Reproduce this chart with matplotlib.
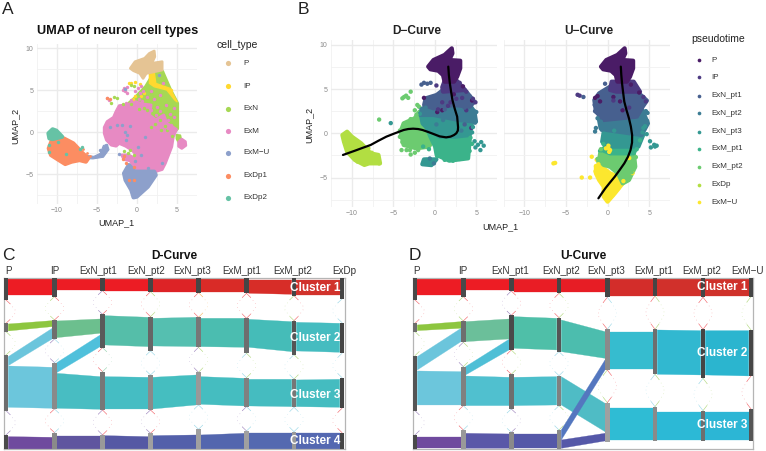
import numpy as np
import matplotlib
matplotlib.use('Agg')
import matplotlib.pyplot as plt

plt.rcParams['font.family'] = ['Liberation Sans', 'DejaVu Sans']

W, H = 766, 451

# ─── Panel A outlines (UMAP units) ───
A_P = [(-0.83, 7.58), (-0.24, 8.37), (0.96, 8.77), (1.55, 9.36), (2.15, 9.64), (2.22, 8.97), (1.83, 8.17),
       (3.14, 8.37), (3.14, 7.38), (2.15, 7.18), (1.15, 6.98), (0.76, 6.39), (0.36, 6.98), (-0.43, 7.3)]
A_GREEN = [(-1.43, 3.01), (-0.24, 4.0), (1.15, 5.39), (2.15, 6.98), (3.14, 7.18), (4.13, 5.0), (5.0, 3.41),
           (5.0, 0.43), (4.33, -0.16), (2.94, 1.03), (1.75, 1.43), (1.35, 2.22), (-0.24, 3.21)]
A_YELLOW = [(1.55, 6.98), (2.15, 7.18), (2.35, 5.79), (4.13, 5.2), (5.0, 3.6), (4.73, 3.8), (3.73, 5.0),
            (2.15, 5.39), (1.55, 5.79)]
A_PINK = [(-4.08, 0.55), (-3.73, 1.23), (-2.93, 1.74), (-2.62, 2.42), (-2.22, 3.13), (-1.23, 3.21), (-0.24, 3.61),
          (0.76, 3.33), (1.75, 3.21), (1.55, 2.02), (2.34, 1.43), (3.34, 2.02), (3.73, 1.03), (4.92, 0.31),
          (4.53, -0.56), (4.33, -1.75), (3.93, -2.74), (3.53, -3.73), (3.14, -4.45), (2.23, -4.72), (1.35, -4.53),
          (0.16, -4.45), (-0.43, -4.13), (-0.83, -3.42), (-1.62, -3.26), (-1.9, -2.74), (-1.03, -2.74), (-0.16, -3.22),
          (-0.24, -2.54), (-0.63, -2.15), (-1.43, -1.67), (-2.22, -1.35), (-2.62, -1.67), (-3.21, -1.55), (-3.81, -0.95),
          (-4.08, -0.16)]
A_PINK_R = [(5.2, -1.2), (5.6, -0.85), (6.05, -1.15), (6.1, -1.6), (5.6, -1.95), (5.2, -1.7)]
A_GREEN_R = [(4.95, -0.35), (5.4, -0.4), (5.5, -0.85), (5.15, -1.15), (4.95, -0.8)]
A_BLUE = [(-1.62, -4.92), (-1.03, -3.93), (-0.24, -4.72), (2.15, -4.72), (2.34, -5.12), (1.35, -6.51),
          (-0.04, -7.7), (-0.43, -7.78), (-0.71, -6.9), (-1.43, -5.72)]
A_TAIL = [(-6.6, -2.74), (-5.4, -2.9), (-4.6, -2.54), (-4.2, -1.6), (-3.7, -1.5), (-3.5, -2.1), (-4.2, -3.0),
          (-5.5, -3.2), (-6.5, -3.15)]
A_ORANGE = [(-10.55, -0.76), (-9.16, -0.76), (-7.97, -1.35), (-6.78, -2.54), (-6.11, -3.14), (-6.39, -3.53),
            (-7.18, -3.34), (-8.17, -3.53), (-8.97, -3.81), (-9.76, -3.34), (-10.75, -2.74), (-11.03, -1.95)]
A_TEAL = [(-11.07, -0.16), (-10.55, 0.32), (-10.08, 0.16), (-9.36, -0.56), (-10.55, -0.84), (-10.95, -0.76)]

A_SPECK_PINK = [(-3.7, 4.1), (-3.5, 3.8), (-1.6, 5.3), (-1.5, 4.9), (-1.2, 5.4), (-0.2, 4.9), (0.1, 5.2), (0.5, 5.5),
                (0.4, 4.6), (2.1, 3.9), (2.9, 4.4), (1.2, 4.2), (0.2, 3.9), (3.6, 3.2), (1.8, 4.9), (4.1, 2.2),
                (4.6, 2.9), (3.2, 5.8), (0.7, 4.9), (2.5, 3.0), (3.9, 1.4), (4.6, 1.8), (-1.7, 5.0), (-1.3, 4.7),
                (-1.4, 3.4), (-0.7, 3.8), (2.4, 2.0), (2.9, 2.5), (1.8, 2.6), (0.6, 3.7), (3.9, 0.5), (4.3, 0.8)]
A_SPECK_GREEN = [(-2.9, 4.2), (-2.5, 4.0), (-0.8, 5.6), (-0.4, 5.5), (3.5, 0.7), (3.0, 0.2), (1.8, 0.6), (2.2, 1.0),
                 (-0.9, -2.2), (-0.4, -2.7), (4.4, -0.5), (-1.1, -2.5), (0.2, 2.8), (-3.3, 3.5), (0.9, 2.9), (1.3, 2.6),
                 (2.9, 1.4), (3.7, 0.3), (-1.6, -2.3), (-0.7, 3.3), (-1.8, 3.3)]
A_SPECK_BLUE = [(-1.82, 0.83), (-1.5, 0.04), (-1.2, -0.36), (-0.83, 0.71), (-3.4, 0.55), (-2.5, 0.83), (0.16, -1.75),
                (0.56, -2.74), (1.35, -4.33), (-0.2, -3.5), (0.96, -0.56), (3.1, -3.7), (-1.43, -0.95), (-1.0, -3.9),
                (-3.9, -1.6), (-2.3, -2.6), (2.7, 6.8), (-1.5, 5.1), (-4.6, -2.1)]
A_SPECK_ORANGE = [(-1.8, -3.26), (-1.43, -3.73), (-0.43, -5.72), (-1.03, -5.72), (-0.43, -4.13), (-1.65, -2.9),
                  (-3.8, 4.0), (-3.4, 3.9)]
A_SPECK_TEAL = [(-10.95, -1.6), (-11.0, -2.4), (-8.9, -2.6), (-7.1, -2.0), (-9.9, -1.2), (-6.9, -1.8)]
A_SPECK_ORANGE2 = [(-6.7, -2.0), (-5.9, -2.8), (-6.2, -2.55)]
A_SPECK_YELLOW = [(-0.8, 5.8), (-0.3, 5.9), (0.4, 5.7), (-0.5, 3.9), (0.5, 4.3), (-0.2, 4.3), (0.9, 4.6), (4.2, 5.0),
                  (-1.0, 5.8)]

CELL_TYPES = ['P', 'IP', 'ExN', 'ExM', 'ExM\u2212U', 'ExDp1', 'ExDp2']
CELL_COLORS = ['#E5C494', '#FFD92F', '#A6D854', '#E78AC3', '#8DA0CB', '#FC8D62', '#66C2A5']

# ─── Panel B outlines ───
B_P = [(-0.79, 7.53), (-0.15, 8.28), (1.18, 8.85), (2.05, 9.6), (2.13, 9.03), (1.75, 8.28), (3.07, 8.2), (3.07, 7.34),
       (2.7, 6.4), (2.32, 5.83), (1.18, 5.83), (0.99, 6.58), (0.42, 7.07), (-0.52, 7.23)]

DL_IP = [(1.18, 5.9), (2.7, 5.9), (3.64, 4.89), (1.0, 4.7), (0.9, 5.2)]
DL_PT1 = [(1.18, 5.3), (2.7, 5.6), (3.64, 4.89), (4.78, 3.57), (4.21, 3.0), (2.32, 3.2), (-0.15, 2.82), (-1.28, 3.2),
          (-1.09, 3.95), (0.23, 4.33), (0.99, 4.89)]
DL_PT2 = [(-1.47, 2.82), (-0.15, 3.0), (4.21, 3.2), (4.78, 2.44), (4.97, 1.31), (2.88, 1.5), (-0.15, 2.07), (-1.74, 2.07)]
DL_PT3 = [(-1.66, 2.07), (-0.15, 2.44), (2.88, 2.07), (4.59, 1.69), (4.21, -0.2), (2.5, -0.38), (0.61, -0.38),
          (-0.71, 0.37), (-1.47, 1.12)]
DL_M1 = [(-0.15, 2.07), (4.02, 1.5), (4.21, -0.76), (4.02, -2.83), (1.75, -3.1), (0.23, -2.45), (0.04, -1.51),
         (-0.53, -0.38), (-1.09, 0.94)]
DL_M1_LOW = [(-1.3, -2.95), (0.2, -2.95), (-0.4, -3.6), (-1.5, -3.5)]
DL_M2 = [(-4.12, 0.18), (-3.75, 1.12), (-2.42, 1.69), (-1.85, 2.44), (-0.9, 2.07), (-0.53, 0.37), (-0.15, -0.76),
         (-0.71, -1.51), (-2.23, -1.7), (-3.75, -1.32)]
DL_DP = [(-11.13, -0.2), (-10.56, 0.18), (-9.99, -0.38), (-8.86, -1.14), (-7.72, -2.27), (-6.78, -2.45), (-6.59, -3.4),
         (-7.91, -3.4), (-8.48, -3.58), (-9.62, -3.02), (-10.56, -2.08), (-10.94, -0.95)]
D_CURVE_X = [1.63, 1.7, 1.82, 1.97, 2.13, 2.4, 2.7, 2.81, 2.78, 2.6, 2.32, 1.9, 1.37, 0.6, -0.15, -0.8, -1.47, -2.0,
             -2.61, -3.2, -3.75, -4.8, -5.83, -6.8, -7.72, -8.7, -9.62, -11.06]
D_CURVE_Y = [7.53, 6.6, 5.64, 4.7, 3.76, 2.8, 1.88, 0.67, 0.3, 0.0, -0.2, -0.38, -0.46, -0.35, -0.08, 0.15, 0.37, 0.48,
             0.52, 0.48, 0.37, 0.0, -0.38, -0.85, -1.32, -1.65, -1.97, -2.45]

UR_IP = [(0.49, 5.83), (3.14, 5.83), (3.9, 4.7), (1.06, 4.7), (0.3, 4.89)]
UR_PT1 = [(-1.59, 3.76), (-1.02, 4.51), (0.3, 5.27), (3.33, 4.89), (4.73, 3.69), (4.09, 2.82), (3.52, 1.88), (-0.46, 1.5),
          (-1.4, 2.44)]
UR_PT2 = [(-1.02, 1.5), (-0.46, 1.88), (4.09, 2.82), (4.85, 1.12), (4.09, -0.2), (-0.08, 0.37), (-0.84, 0.56)]
UR_PT3 = [(-0.46, 0.18), (-0.08, 0.67), (4.09, 0.75), (4.28, -0.2), (3.71, -1.51), (-0.08, -1.51), (-0.65, -0.95)]
UR_M1 = [(-0.27, -1.51), (3.33, -0.95), (4.09, -0.38), (3.14, -2.27), (0.3, -2.27), (-0.65, -1.89)]
UR_M2 = [(-0.84, -2.08), (-0.08, -1.51), (3.14, -2.08), (3.33, -3.77), (2.57, -5.28), (1.82, -5.66), (1.25, -4.53),
         (0.3, -3.77), (-0.46, -3.58), (-1.02, -3.02)]
UR_YELLOW = [(-1.4, -3.77), (-0.65, -3.4), (-0.46, -3.96), (0.3, -4.53), (1.25, -4.9), (1.89, -5.58), (0.87, -6.79),
             (0.0, -7.73), (-0.46, -7.16), (-0.46, -6.03), (-1.02, -5.28), (-1.4, -4.53)]
U_CURVE_X = [1.59, 1.65, 1.74, 1.87, 2.01, 2.28, 2.57, 2.8, 2.95, 2.94, 2.76, 2.45, 2.01, 1.45, 0.87, 0.3, -0.27, -0.7, -1.1]
U_CURVE_Y = [7.53, 6.6, 5.64, 4.6, 3.57, 2.6, 1.69, 0.75, -0.2, -1.05, -1.89, -2.65, -3.4, -4.15, -4.9, -5.55, -6.22,
             -6.8, -7.35]

PT_LABELS = ['P', 'IP', 'ExN_pt1', 'ExN_pt2', 'ExN_pt3', 'ExM_pt1', 'ExM_pt2', 'ExDp', 'ExM\u2212U']
PT_COLORS = ['#4A1C66', '#4D3A82', '#47608F', '#3C7C94', '#349892', '#3BB38A', '#6CCB70', '#B2DE42', '#FCE72E']

# stray points in each facet: x, y, colour index
DL_SPECK = [(-3.7, 4.1, 6), (-3.45, 4.25, 6), (-3.2, 4.0, 6), (-3.9, 3.95, 6), (-2.9, 4.7, 6), (-6.7, 1.55, 6),
            (-5.3, 1.15, 4), (-1.3, 5.7, 2), (-0.9, 5.6, 2), (-1.6, 5.5, 2), (-0.5, 5.7, 2), (0.2, 5.4, 1), (4.8, -0.9, 4),
            (5.2, -1.3, 4), (5.6, -1.0, 4), (5.9, -1.4, 4), (5.5, -1.9, 4), (4.9, -1.6, 4), (5.0, 2.4, 3), (-1.3, 4.0, 0),
            (-1.9, 3.0, 6), (-3.4, -1.9, 6), (-2.9, -2.4, 6), (0.9, 2.6, 0), (1.6, 3.1, 1), (2.3, 4.4, 0), (3.3, 4.0, 1),
            (4.5, 3.7, 0), (4.6, 1.5, 3), (4.4, 0.6, 1), (3.8, 2.6, 1), (-1.0, -3.0, 4), (-0.6, -2.85, 3), (-0.1, -3.4, 3),
            (3.6, 1.0, 2), (1.9, 3.5, 1), (0.3, 2.4, 0),
            (4.9, 3.5, 1), (4.6, 3.9, 1), (4.2, 4.2, 2), (3.8, 4.7, 1), (3.4, 5.3, 0), (3.0, 5.7, 1), (4.75, 2.5, 3),
            (4.55, 2.0, 3), (4.85, 1.2, 3), (4.6, 0.7, 4), (4.5, 0.1, 4), (4.3, -0.5, 5), (4.5, -1.2, 5), (4.2, -2.0, 5),
            (3.7, -2.6, 5), (3.0, -2.9, 5), (2.2, -3.1, 5), (1.2, -3.0, 5), (0.3, -2.6, 5), (-0.9, 3.5, 2), (-1.1, 2.9, 3),
            (-1.6, 2.7, 3), (-1.8, 2.2, 4), (-2.2, 2.1, 6), (-2.4, 2.6, 6), (-2.1, 3.2, 6), (-2.9, 1.6, 6), (-3.6, 1.1, 6),
            (-4.2, 0.3, 6), (-4.2, -0.4, 6), (-3.9, -1.0, 6), (-4.0, -1.9, 6), (-3.0, -1.9, 6), (-2.4, -2.2, 6),
            (-2.0, -1.9, 6), (-1.4, -1.5, 5), (-0.7, -1.8, 5), (0.2, 1.0, 3), (1.0, 1.5, 3), (2.0, 0.8, 4), (3.2, 0.3, 3),
            (0.4, 2.7, 1), (1.2, 2.7, 2), (0.9, 3.5, 1), (2.6, 3.9, 1), (3.6, 2.9, 2),
            (-6.7, -3.4, 7), (-7.2, -3.1, 7), (-7.6, -2.2, 7), (-8.0, -1.7, 7), (-8.6, -3.3, 7), (-9.3, -3.2, 7),
            (-9.9, -2.5, 7), (-10.8, -1.0, 7), (-10.3, -0.2, 7), (-9.4, -0.9, 7)]
UR_SPECK = [(-3.6, 4.35, 1), (-3.35, 4.25, 1), (-2.9, 4.1, 2), (-1.5, 4.0, 0), (-1.2, 4.2, 0), (-0.9, 3.6, 0), (-0.3, 5.6, 2),
            (5.1, -0.9, 4), (5.6, -1.3, 4), (5.7, -1.5, 4), (5.9, -1.4, 4), (5.2, -1.6, 4), (4.7, -0.1, 4), (4.6, 2.5, 3),
            (-6.5, -3.4, 8), (-6.3, -3.35, 8), (-3.1, -5.0, 8), (-2.1, -5.0, 8), (-1.9, -2.65, 8), (-1.3, -3.0, 8),
            (-1.2, -2.9, 6), (-0.9, -2.0, 5), (0.1, -1.7, 8), (0.2, -2.1, 8), (2.6, -2.8, 8), (1.5, 3.6, 0), (1.8, 2.6, 0),
            (3.0, -4.5, 8), (-1.4, 0.6, 3), (-0.9, -2.6, 6), (-0.2, -3.1, 6), (0.7, 4.1, 0), (-1.5, 0.2, 3), (4.2, 1.5, 3),
            (4.5, 0.8, 4), (3.2, -3.9, 6),
            (4.6, 3.6, 1), (4.3, 4.1, 1), (3.8, 4.6, 0), (3.4, 5.1, 1), (2.8, 5.5, 0), (4.8, 2.3, 3), (4.75, 1.4, 3),
            (4.3, 0.6, 4), (4.2, 0.1, 4), (3.9, -0.8, 5), (3.5, -1.8, 5), (3.4, -2.7, 6), (3.1, -3.6, 6), (2.9, -4.4, 6),
            (2.2, -5.3, 6), (-1.55, 3.2, 2), (-1.5, 2.5, 2), (-1.2, 1.7, 3), (-0.8, 1.3, 3), (-0.7, 0.4, 3), (-0.3, -0.4, 4),
            (-0.5, -1.2, 5), (-0.8, -1.8, 6), (-0.2, -1.7, 8), (0.3, -1.9, 8), (0.1, -1.4, 8), (-0.9, -2.4, 6), (-1.1, -3.2, 6),
            (-0.7, -3.3, 6), (-1.4, -3.7, 8), (-1.1, -3.5, 8), (-1.45, -4.3, 8), (-1.0, -5.0, 8), (-0.7, -5.6, 8), (-0.5, -6.7, 8),
            (0.0, -7.5, 8), (0.6, -7.0, 8), (1.3, -6.2, 8), (1.9, -5.4, 8), (2.5, -4.5, 6), (0.7, 3.7, 1), (1.5, 3.0, 2),
            (2.6, 2.9, 1), (3.5, 2.2, 2), (2.8, 1.0, 3), (0.8, 0.3, 4), (3.0, -0.9, 4)]


def umap_axes(x0, x1, y0, y1, xlim, ylim, left_ticks=True):
    ax = fig.add_axes([x0 / W, 1 - y1 / H, (x1 - x0) / W, (y1 - y0) / H])
    ax.set_xlim(xlim)
    ax.set_ylim(ylim)
    ax.set_xticks([-10, -5, 0, 5])
    ax.set_yticks([-5, 0, 5, 10])
    ax.set_xticks(np.arange(-12.5, 8, 5), minor=True)
    ax.set_yticks(np.arange(-7.5, 10, 5), minor=True)
    ax.grid(True, which='major', color='#EBEBEB', linewidth=1.0)
    ax.grid(True, which='minor', color='#F1F1F1', linewidth=0.6)
    ax.set_axisbelow(True)
    ax.tick_params(which='both', length=0, labelsize=5, labelcolor='#8A8A8A', pad=2.5)
    if not left_ticks:
        ax.tick_params(axis='y', labelleft=False)
    for s in ax.spines.values():
        s.set_visible(False)
    return ax


def blob(ax, outline, color, lw=3.0):
    xy = np.array(outline)
    ax.fill(xy[:, 0], xy[:, 1], facecolor=color, edgecolor=color, linewidth=lw, joinstyle='round', zorder=2)


def specks(ax, pts, color, s=6):
    xy = np.array(pts)
    ax.scatter(xy[:, 0], xy[:, 1], s=s, color=color, linewidths=0, zorder=3)


def coloured_specks(ax, pts):
    ax.scatter([p[0] for p in pts], [p[1] for p in pts], s=10, c=[PT_COLORS[p[2]] for p in pts], linewidths=0, zorder=3)


fig = plt.figure(figsize=(W / 100, H / 100), dpi=100, facecolor='white')

# ─── Panel A ───
ax_a = umap_axes(37, 197, 44, 204, (-11.9, 7.14), (-8.57, 10.48))
blob(ax_a, A_GREEN, CELL_COLORS[2])
blob(ax_a, A_GREEN_R, CELL_COLORS[2], lw=1.5)
blob(ax_a, A_YELLOW, CELL_COLORS[1], lw=1.0)
blob(ax_a, A_PINK, CELL_COLORS[3], lw=2.2)
blob(ax_a, A_PINK_R, CELL_COLORS[3], lw=2.0)
blob(ax_a, A_P, CELL_COLORS[0], lw=2.0)
blob(ax_a, A_BLUE, CELL_COLORS[4])
blob(ax_a, A_TAIL, CELL_COLORS[4], lw=0.8)
blob(ax_a, A_ORANGE, CELL_COLORS[5])
blob(ax_a, A_TEAL, CELL_COLORS[6])
specks(ax_a, A_SPECK_YELLOW, CELL_COLORS[1])
specks(ax_a, A_SPECK_GREEN, CELL_COLORS[2])
specks(ax_a, A_SPECK_PINK, CELL_COLORS[3])
specks(ax_a, A_SPECK_BLUE, CELL_COLORS[4])
specks(ax_a, A_SPECK_ORANGE, CELL_COLORS[5])
specks(ax_a, A_SPECK_ORANGE2, CELL_COLORS[5], s=4)
specks(ax_a, A_SPECK_TEAL, CELL_COLORS[6])

# ─── Panel B ───
ax_d = umap_axes(331, 497, 40, 207, (-11.95, 6.91), (-8.33, 10.54))
for outline, c in [(DL_DP, 7), (DL_M2, 6), (DL_M1, 5), (DL_M1_LOW, 4), (DL_PT3, 4), (DL_PT2, 3), (DL_PT1, 2), (DL_IP, 1),
                   (B_P, 0)]:
    blob(ax_d, outline, PT_COLORS[c])
coloured_specks(ax_d, DL_SPECK)
ax_d.plot(D_CURVE_X, D_CURVE_Y, color='black', lw=1.6, solid_capstyle='round', zorder=4)

ax_u = umap_axes(503.5, 670, 40, 207, (-11.99, 6.94), (-8.33, 10.54), left_ticks=False)
for outline, c in [(UR_YELLOW, 8), (UR_M2, 6), (UR_M1, 5), (UR_PT3, 4), (UR_PT2, 3), (UR_PT1, 2), (UR_IP, 1), (B_P, 0)]:
    blob(ax_u, outline, PT_COLORS[c])
coloured_specks(ax_u, UR_SPECK)
ax_u.plot(U_CURVE_X, U_CURVE_Y, color='black', lw=1.6, solid_capstyle='round', zorder=4)

# ─── Panels C and D: alluvial flows, y in picture units ───
C_COLS = [6, 54.5, 102.5, 150.5, 198.5, 246.5, 294, 342]
C_LABELS = ['P', 'IP', 'ExN_pt1', 'ExN_pt2', 'ExN_pt3', 'ExM_pt1', 'ExM_pt2', 'ExDp']
C_LABEL_X = [8, 55, 98, 146, 192.5, 242, 293, 344]
C_NODES = [[(115, 180), (250, 275), (345, 512), (585, 628)],
           [(115, 170), (240, 297), (368, 507), (578, 628)],
           [(115, 152), (223, 323), (395, 510), (585, 628)],
           [(115, 155), (230, 333), (405, 510), (580, 628)],
           [(115, 158), (232, 322), (397, 495), (568, 628)],
           [(115, 160), (235, 340), (413, 500), (573, 628)],
           [(115, 167), (242, 344), (417, 502), (575, 628)],
           [(115, 177), (248, 340), (413, 505), (578, 628)]]
C_GREYS = [['#4A4A4A', '#6E6E6E', '#6E6E6E', '#4A4A4A'],
           ['#4A4A4A', '#6E6E6E', '#8A8A8A', '#8A8A8A'],
           ['#454545', '#5A5A5A', '#777777', '#999999'],
           ['#454545', '#666666', '#8A8A8A', '#A0A0A0'],
           ['#454545', '#777777', '#999999', '#A0A0A0'],
           ['#454545', '#6E6E6E', '#808080', '#A0A0A0'],
           ['#454545', '#555555', '#777777', '#999999'],
           ['#454545', '#454545', '#454545', '#454545']]
# from column, left top, left bottom, right top, right bottom, colour
C_BANDS = [(0, 117, 165, 117, 165, '#ED1C24'), (0, 252, 273, 242, 260, '#8DC63F'), (0, 350, 377, 265, 297, '#6BC5DC'),
           (0, 378, 502, 382, 505, '#6CC6DC'), (0, 590, 628, 592, 628, '#6F4A9E'),
           (1, 117, 150, 117, 150, '#ED1C24'), (1, 243, 293, 237, 280, '#6CBF8E'), (1, 368, 398, 285, 320, '#4FC0DB'),
           (1, 400, 505, 410, 508, '#48BDC2'), (1, 587, 628, 587, 628, '#5F559F'),
           (2, 117, 152, 117, 152, '#EC1C24'), (2, 227, 315, 232, 320, '#55BEA9'), (2, 410, 507, 412, 507, '#45BDC3'),
           (2, 587, 628, 590, 628, '#5558A4'),
           (3, 117, 155, 117, 155, '#DD2326'), (3, 235, 318, 232, 320, '#55BFB0'), (3, 412, 507, 405, 495, '#45BEC0'),
           (3, 587, 628, 585, 628, '#5360AA'),
           (4, 118, 157, 118, 157, '#D92B27'), (4, 235, 320, 235, 322, '#4BBDB0'), (4, 410, 493, 415, 498, '#45BDC0'),
           (4, 585, 628, 580, 628, '#5366AE'),
           (5, 120, 160, 120, 163, '#D72D28'), (5, 238, 322, 245, 335, '#45BCB8'), (5, 418, 498, 418, 500, '#45BCC0'),
           (5, 580, 628, 580, 628, '#5469B0'),
           (6, 120, 165, 120, 165, '#D1322B'), (6, 247, 333, 250, 337, '#45BCC0'), (6, 420, 500, 418, 502, '#44BCC0'),
           (6, 580, 628, 580, 628, '#5468B1')]
C_LINKS = [[('#ED1C24', '#ED1C24'), ('#6BC5DC', '#8DC63F'), ('#6F4A9E', '#6F4A9E')],
           [('#8DC63F', '#ED1C24'), ('#6F4A9E', '#6BC5DC'), ('#ED1C24', '#6BC5DC')],
           [('#6F4A9E', '#ED1C24'), ('#ED1C24', '#6CBF8E'), ('#6F4A9E', '#ED1C24')],
           [('#ED1C24', '#8DC63F'), ('#6BC5DC', '#6BC5DC'), ('#6F4A9E', '#ED1C24')],
           [('#ED1C24', '#F7941D'), ('#6F4A9E', '#8DC63F'), ('#6BC5DC', '#6BC5DC')],
           [('#ED1C24', '#ED1C24'), ('#6BC5DC', '#8DC63F'), ('#6F4A9E', '#6BC5DC')],
           [('#8DC63F', '#ED1C24'), ('#6BC5DC', '#8DC63F'), ('#6BC5DC', '#6BC5DC')],
           [('#6BC5DC', '#8DC63F'), ('#6BC5DC', '#6BC5DC'), ('#ED1C24', '#ED1C24')]]
C_CLUSTERS = ['Cluster 1', 'Cluster 2', 'Cluster 3', 'Cluster 4']
C_CLUSTER_Y = [145, 293, 465, 603]

D_COLS = [415, 463.3, 511.3, 559, 607.3, 655, 703, 751]
D_LABELS = ['P', 'IP', 'ExN_pt1', 'ExN_pt2', 'ExN_pt3', 'ExM_pt1', 'ExM_pt2', 'ExM\u2212U']
D_LABEL_X = [416, 463, 510, 561, 606.5, 654, 702, 748]
D_NODES = [[(115, 180), (250, 275), (347, 512), (585, 628)],
           [(115, 170), (243, 307), (380, 497), (570, 628)],
           [(115, 153), (226, 330), (403, 507), (577, 628)],
           [(115, 160), (233, 335), (407, 497), (570, 628)],
           [(115, 172), (268, 390), (488, 605)],
           [(115, 168), (268, 403), (500, 603)],
           [(115, 172), (268, 415), (512, 603)],
           [(115, 170), (270, 408), (507, 603)]]
D_GREYS = [['#4A4A4A', '#6E6E6E', '#555555', '#4A4A4A'],
           ['#4A4A4A', '#6E6E6E', '#808080', '#999999'],
           ['#454545', '#4A4A4A', '#6E6E6E', '#8A8A8A'],
           ['#454545', '#555555', '#808080', '#8A8A8A'],
           ['#454545', '#8A8A8A', '#A0A0A0'],
           ['#454545', '#6E6E6E', '#8A8A8A'],
           ['#454545', '#454545', '#6E6E6E'],
           ['#454545', '#454545', '#555555']]
D_BANDS = [(0, 117, 165, 117, 165, '#ED1C24'), (0, 255, 272, 245, 265, '#8DC63F'), (0, 350, 390, 265, 305, '#6BC5DC'),
           (0, 393, 495, 395, 495, '#6CC6DC'), (0, 590, 625, 590, 625, '#6F4A9E'),
           (1, 117, 150, 117, 150, '#ED1C24'), (1, 245, 305, 237, 297, '#6BBF9A'), (1, 380, 405, 298, 330, '#4FBFD6'),
           (1, 408, 497, 412, 497, '#50C0CF'), (1, 580, 625, 582, 625, '#5A58A8'),
           (2, 117, 157, 117, 157, '#E91D25'), (2, 230, 325, 235, 330, '#4FBFA8'), (2, 412, 497, 410, 495, '#4CBFCB'),
           (2, 582, 625, 582, 625, '#5558A8'),
           (3, 117, 157, 117, 157, '#E71D25'), (3, 240, 335, 275, 355, '#4CBDAE'), (3, 410, 495, 490, 575, '#4FBCC5'),
           (3, 570, 600, 360, 390, '#5477BF'), (3, 600, 625, 580, 603, '#5558A8'),
           (4, 118, 168, 118, 168, '#D32D2A'), (4, 275, 388, 275, 388, '#36BCCF'), (4, 505, 600, 505, 600, '#2FBCD4'),
           (5, 118, 168, 118, 168, '#D1302B'), (5, 270, 403, 272, 405, '#31B8D0'), (5, 515, 600, 515, 600, '#2CB9D6'),
           (6, 118, 168, 118, 168, '#CF312B'), (6, 272, 405, 272, 408, '#2BB5CF'), (6, 515, 600, 515, 600, '#2CB6D5')]
D_LINKS = [[('#ED1C24', '#ED1C24'), ('#6BC5DC', '#8DC63F'), ('#6F4A9E', '#6F4A9E')],
           [('#8DC63F', '#ED1C24'), ('#6F4A9E', '#8DC63F'), ('#ED1C24', '#6BC5DC')],
           [('#6F4A9E', '#ED1C24'), ('#ED1C24', '#8DC63F'), ('#6BC5DC', '#6F4A9E')],
           [('#ED1C24', '#8DC63F'), ('#6BC5DC', '#6BC5DC'), ('#6BC5DC', '#8DC63F')],
           [('#ED1C24', '#6BC5DC'), ('#8DC63F', '#ED1C24')],
           [('#ED1C24', '#8DC63F'), ('#6BC5DC', '#8DC63F')],
           [('#ED1C24', '#ED1C24'), ('#6BC5DC', '#8DC63F')],
           [('#8DC63F', '#8DC63F'), ('#ED1C24', '#6BC5DC')]]
D_CLUSTERS = ['Cluster 1', 'Cluster 2', 'Cluster 3']
D_CLUSTER_Y = [140, 338, 555]


def alluvial(x0, x1, cols, nodes, greys, bands, links, clusters, cluster_y, cluster_x):
    ax = fig.add_axes([x0 / W, 1 - 449.3 / H, (x1 - x0) / W, (449.3 - 278.3) / H])
    ax.set_xlim(x0, x1)
    ax.set_ylim(628, 115)
    ax.set_xticks([])
    ax.set_yticks([])
    for s in ax.spines.values():
        s.set_color('#B5B5B5')
        s.set_linewidth(0.9)
    half = 2.3
    for c, t0, b0, t1, b1, color in bands:
        xa = cols[c] + half
        xb = cols[c + 1] - half
        ax.fill([xa, xb, xb, xa], [t0, t1, b1, b0], color=color, linewidth=0.2, zorder=2)
    # thin links around the gaps between stacked nodes
    for i, col in enumerate(nodes):
        for k, (lc, rc) in enumerate(links[i]):
            top = col[k][1]
            bot = col[k + 1][0]
            h = bot - top
            for side, color in ((-1, lc), (1, rc)):
                if not cols[0] - 1 < cols[i] + side * 8 < cols[-1] + 1:
                    continue
                # faint dotted middle
                ax.plot([cols[i] + side * 4, cols[i] + side * 9, cols[i] + side * 9, cols[i] + side * 4],
                        [top + h * 0.16, top + h * 0.42, bot - h * 0.42, bot - h * 0.16],
                        color=color, lw=0.4, ls=(0, (1, 6)), alpha=0.55, zorder=1)
                # short strokes where a link meets the node
                ax.plot([cols[i], cols[i] + side * 4], [top, top + h * 0.16], color=color, lw=0.45, alpha=0.65, zorder=1)
                ax.plot([cols[i], cols[i] + side * 4], [bot, bot - h * 0.16], color=color, lw=0.45, alpha=0.65, zorder=1)
    for i, col in enumerate(nodes):
        for (t, b), g in zip(col, greys[i]):
            ax.fill([cols[i] - half, cols[i] + half, cols[i] + half, cols[i] - half], [t, t, b, b], color=g, linewidth=0,
                    zorder=3)
    for name, y in zip(clusters, cluster_y):
        ax.text(cluster_x, y, name, color='white', fontsize=8.5, fontweight='bold', ha='center', va='center', zorder=4)
    return ax


alluvial(4, 344.5, C_COLS, C_NODES, C_GREYS, C_BANDS, C_LINKS, C_CLUSTERS, C_CLUSTER_Y, 315)
alluvial(412.7, 753.3, D_COLS, D_NODES, D_GREYS, D_BANDS, D_LINKS, D_CLUSTERS, D_CLUSTER_Y, 722)

# ─── Texts and legends, placed in figure pixels ───
ov = fig.add_axes([0, 0, 1, 1], facecolor='none')
ov.set_xlim(0, W)
ov.set_ylim(H, 0)
ov.axis('off')

for letter, x, y in [('A', 2, 10), ('B', 298, 10), ('C', 2, 255), ('D', 409, 255)]:
    ov.text(x, y, letter, fontsize=12.5, color='#222222', ha='left', va='center')

ov.text(37, 31, 'UMAP of neuron cell types', fontsize=9.2, fontweight='bold', va='center', color='#111111')
ov.text(116, 223, 'UMAP_1', fontsize=6.5, ha='center', va='center', color='#222222')
ov.text(15, 126, 'UMAP_2', fontsize=6.5, rotation=90, ha='center', va='center', color='#222222')
ov.text(416.7, 31, 'D\u2212Curve', fontsize=8.6, fontweight='bold', ha='center', va='center', color='#222222')
ov.text(589.3, 31, 'U\u2212Curve', fontsize=8.6, fontweight='bold', ha='center', va='center', color='#222222')
ov.text(500, 227, 'UMAP_1', fontsize=6.5, ha='center', va='center', color='#222222')
ov.text(309, 125, 'UMAP_2', fontsize=6.5, rotation=90, ha='center', va='center', color='#222222')

ov.text(216.5, 44.7, 'cell_type', fontsize=7.5, va='center', color='#222222')
LEG_A_Y = [63.3, 86, 109, 131.3, 153, 175.7, 197.7]
for name, color, y in zip(CELL_TYPES, CELL_COLORS, LEG_A_Y):
    ov.scatter([228], [y], s=14, color=color, linewidths=0)
    ov.text(243, y, name, fontsize=5.8, va='center', color='#333333')

ov.text(691, 39, 'pseudotime', fontsize=7.5, va='center', color='#222222')
LEG_B_Y = [60, 77.3, 95.7, 113.3, 131.7, 149, 166.7, 184.7, 202.3]
for name, color, y in zip(PT_LABELS, PT_COLORS, LEG_B_Y):
    ov.scatter([699.3], [y], s=7, color=color, linewidths=0)
    ov.text(711.7, y, name, fontsize=5.8, va='center', color='#333333')

ov.text(174, 256, 'D-Curve', fontsize=8.6, fontweight='bold', ha='center', va='center', color='#111111')
ov.text(583, 256, 'U-Curve', fontsize=8.6, fontweight='bold', ha='center', va='center', color='#111111')
for labels, xs in [(C_LABELS, C_LABEL_X), (D_LABELS, D_LABEL_X)]:
    for name, x in zip(labels, xs):
        ov.text(x, 270.7, name, fontsize=7.1, ha='center', va='center', color='#333333')

fig.savefig('out.png', dpi=100, facecolor='white')
plt.close()
